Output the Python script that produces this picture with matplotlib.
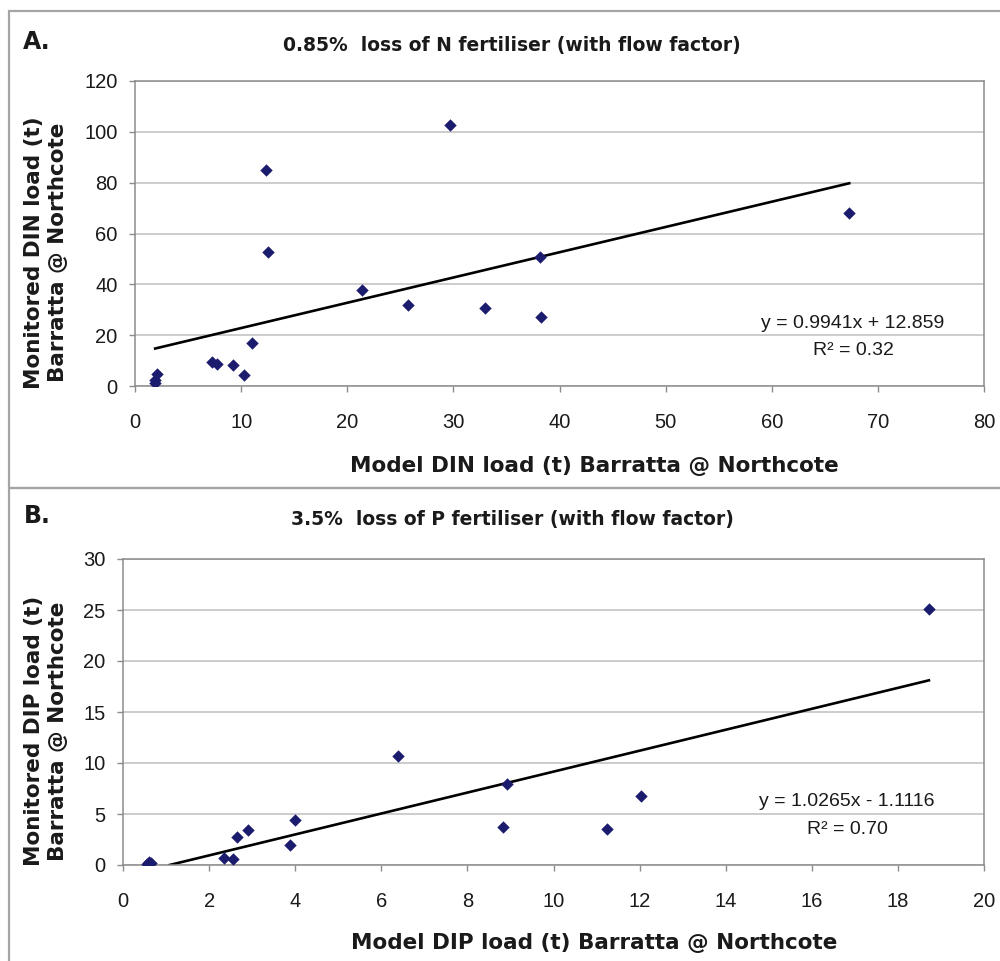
import matplotlib
matplotlib.use("Agg")
import matplotlib.pyplot as plt
from matplotlib.patches import Rectangle
import numpy as np

plt.rcParams['font.family'] = ['Liberation Sans', 'DejaVu Sans']

# Panel A: DIN loads (t), modelled vs monitored
din_model = [1.9, 1.9, 2.1, 7.3, 7.7, 9.2, 10.3, 11.0, 12.3, 12.5,
             21.4, 25.7, 29.7, 33.0, 38.2, 38.3, 67.3]
din_monitored = [1.0, 2.5, 4.6, 9.5, 8.8, 8.2, 4.3, 16.9, 85.0, 52.9,
                 37.6, 31.8, 102.8, 30.5, 50.8, 27.2, 67.9]
din_slope, din_intercept, din_r2 = 0.9941, 12.859, 0.32

# Panel B: DIP loads (t), modelled vs monitored
dip_model = [0.55, 0.6, 0.65, 2.35, 2.56, 2.65, 2.91, 3.89, 3.99,
             6.38, 8.82, 8.92, 11.25, 12.03, 18.72]
dip_monitored = [0.1, 0.3, 0.2, 0.72, 0.55, 2.7, 3.4, 1.96, 4.4,
                 10.65, 3.73, 7.97, 3.53, 6.8, 25.07]
dip_slope, dip_intercept, dip_r2 = 1.0265, -1.1116, 0.70

W, H = 1000, 961
fig = plt.figure(figsize=(W / 100, H / 100), dpi=100)


def fx(x):
    return x / W


def fy(y):
    return 1 - y / H


def rect(l, t, r, b):
    return [fx(l), fy(b), fx(r) - fx(l), fy(t) - fy(b)]


bold = dict(family='DejaVu Sans', fontweight='bold', color='#1a1a1a')

# panel frames
for top, bottom in [(11, 488), (488, 975)]:
    fig.patches.append(Rectangle((fx(9), fy(bottom)), fx(1010) - fx(9), fy(top) - fy(bottom),
                                 transform=fig.transFigure, fill=False,
                                 edgecolor='#a5a5a5', linewidth=1.6, clip_on=False))


def panel(box, xs, ys, slope, intercept, r2, xmax, ymax, xstep, ystep,
          letter, title, xlabel, ylabel, ytop, eq_xy, label_y):
    ax = fig.add_axes(rect(*box))
    ax.scatter(xs, ys, marker='D', s=40, color='#1c1c6e', zorder=3, linewidths=0)
    # trendline runs over the data range, cut where it meets y = 0
    x0 = max(min(xs), -intercept / slope)
    xl = np.array([x0, max(xs)])
    ax.plot(xl, slope * xl + intercept, color='black', lw=1.9, zorder=2)
    ax.set_xlim(0, xmax)
    ax.set_ylim(0, ymax)
    ax.set_xticks(np.arange(0, xmax + 0.001, xstep))
    ax.set_yticks(np.arange(0, ymax + 0.001, ystep))
    ax.grid(axis='y', color='#c4c4c4', lw=1.2)
    ax.set_axisbelow(True)
    for s in ax.spines.values():
        s.set_color('#8c8c8c')
        s.set_linewidth(1.1)
    ax.tick_params(direction='out', length=4.5, width=1, color='#8c8c8c',
                   labelsize=14.5, labelcolor='#1a1a1a')
    ax.tick_params(axis='x', pad=15)
    ax.tick_params(axis='y', pad=8)

    fig.text(fx(37), fy(ytop), letter, fontsize=17, ha='center', va='center', **bold)
    fig.text(fx(512), fy(ytop + 3), title, fontsize=13.5, ha='center', va='center', **bold)
    fig.text(fx(594), fy(label_y), xlabel, fontsize=15.5, ha='center', va='center', **bold)
    ycen = (box[1] + box[3]) / 2 + 19
    fig.text(fx(46), fy(ycen), ylabel, fontsize=15.5, rotation=90, ha='center',
             va='center', multialignment='center', linespacing=1.2, **bold)

    sign = '+' if intercept >= 0 else '-'
    eq = f"y = {slope:.4f}x {sign} {abs(intercept):g}"
    fig.text(fx(eq_xy[0]), fy(eq_xy[1]), eq, fontsize=14, ha='center', va='center', color='#1a1a1a')
    fig.text(fx(eq_xy[0]), fy(eq_xy[1] + 27), f"R² = {r2:.2f}", fontsize=14,
             ha='center', va='center', color='#1a1a1a')
    return ax


panel((135, 81, 984, 386), din_model, din_monitored, din_slope, din_intercept, din_r2,
      80, 120, 10, 20, 'A.', '0.85%  loss of N fertiliser (with flow factor)',
      'Model DIN load (t) Barratta @ Northcote',
      'Monitored DIN load (t)\nBarratta @ Northcote', 42, (853, 324), 466)

panel((123, 559, 984, 865), dip_model, dip_monitored, dip_slope, dip_intercept, dip_r2,
      20, 30, 2, 5, 'B.', '3.5%  loss of P fertiliser (with flow factor)',
      'Model DIP load (t) Barratta @ Northcote',
      'Monitored DIP load (t)\nBarratta @ Northcote', 516, (847, 802), 943)

fig.savefig('out.png', dpi=100, facecolor='white')
